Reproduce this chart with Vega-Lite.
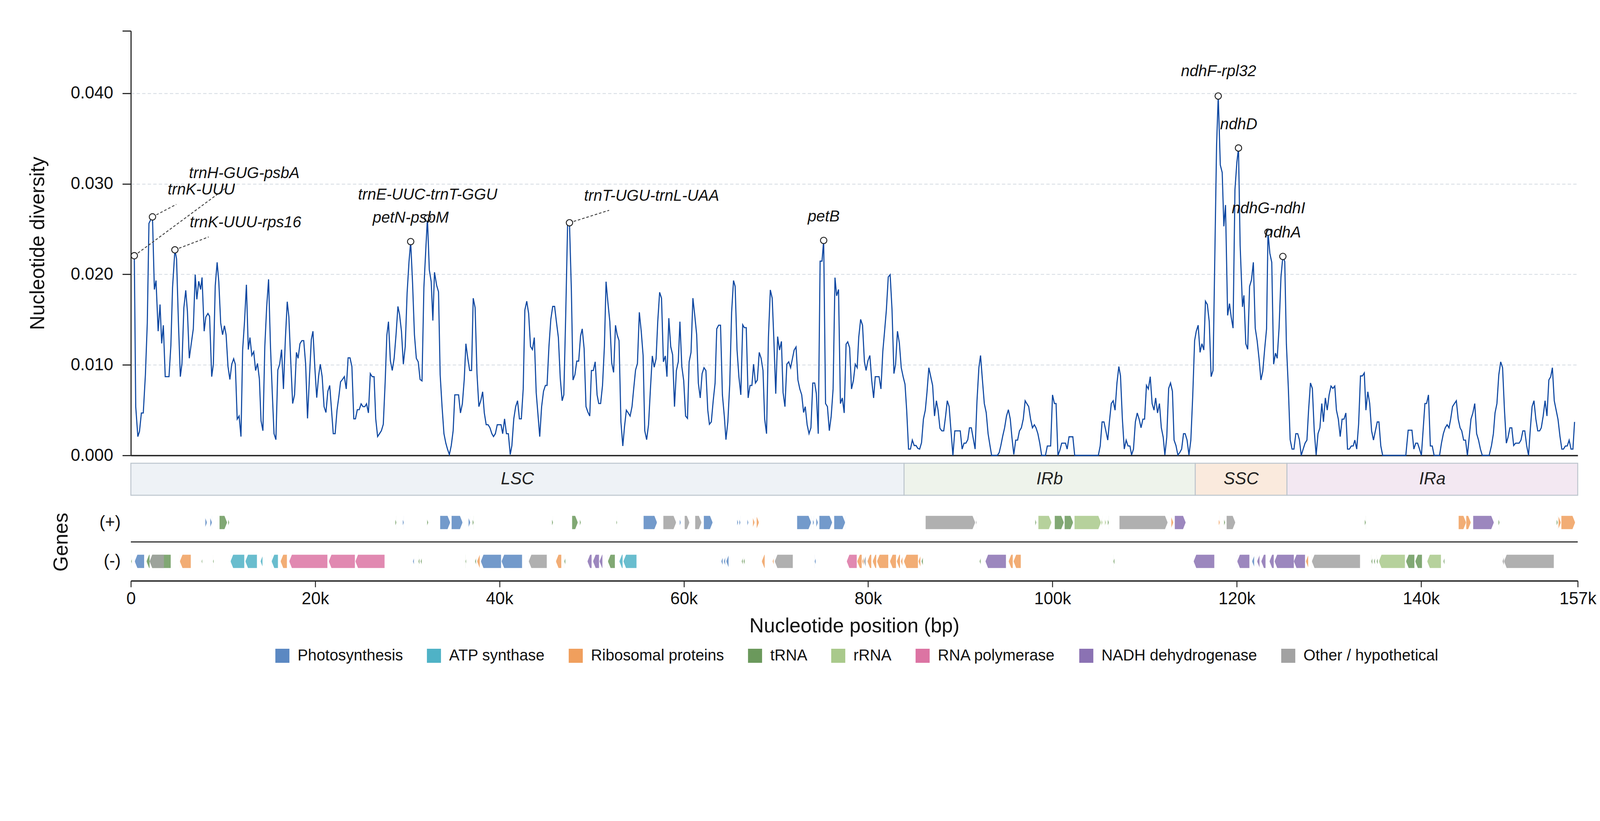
{
"$schema": "https://vega.github.io/schema/vega-lite/v6.json",
"background": "white",
"padding": {"left": 71, "top": 77, "right": 5, "bottom": 20},
"spacing": 20,
"bounds": "flush",
"config": {"font": "Liberation Sans", "view": {"stroke": null}, "axis": {"labelFont": "Liberation Sans", "titleFont": "Liberation Sans"}},
"resolve": {"scale": {"x": "independent", "y": "independent", "color": "independent", "fill": "independent"}},
"datasets": {
"div": [
{"x":374,"y":0.02206},{"x":528,"y":0.00539},{"x":758,"y":0.00208},{"x":937,"y":0.00266},{"x":1142,"y":0.00469},{"x":1347,"y":0.00469},{"x":1578,"y":0.00891},{"x":1783,"y":0.01464},{"x":1962,"y":0.02563},{"x":2115,"y":0.02596},{"x":2346,"y":0.02635},{"x":2551,"y":0.01833},{"x":2730,"y":0.01932},{"x":2961,"y":0.01372},{"x":3166,"y":0.01667},{"x":3345,"y":0.01237},{"x":3524,"y":0.01438},{"x":3729,"y":0.0087},{"x":3934,"y":0.0087},{"x":4139,"y":0.0087},{"x":4343,"y":0.01216},{"x":4523,"y":0.01854},{"x":4779,"y":0.02271},{"x":4958,"y":0.02172},{"x":5163,"y":0.01464},{"x":5368,"y":0.0087},{"x":5547,"y":0.01016},{"x":5752,"y":0.01633},{"x":5957,"y":0.01823},{"x":6136,"y":0.01594},{"x":6341,"y":0.01073},{"x":6546,"y":0.01229},{"x":6776,"y":0.01398},{"x":6981,"y":0.01997},{"x":7160,"y":0.01724},{"x":7365,"y":0.01924},{"x":7570,"y":0.01833},{"x":7724,"y":0.01966},{"x":7954,"y":0.01372},{"x":8133,"y":0.01529},{"x":8364,"y":0.01568},{"x":8543,"y":0.01536},{"x":8773,"y":0.0087},{"x":8953,"y":0.01008},{"x":9157,"y":0.01875},{"x":9362,"y":0.02133},{"x":9542,"y":0.01919},{"x":9747,"y":0.01464},{"x":9951,"y":0.01333},{"x":10156,"y":0.01432},{"x":10335,"y":0.01333},{"x":10540,"y":0.00982},{"x":10745,"y":0.00839},{"x":10950,"y":0.01008},{"x":11155,"y":0.01068},{"x":11334,"y":0.01008},{"x":11539,"y":0.00401},{"x":11744,"y":0.00435},{"x":11949,"y":0.00208},{"x":12128,"y":0.01164},{"x":12333,"y":0.01477},{"x":12538,"y":0.01885},{"x":12743,"y":0.01169},{"x":12922,"y":0.01302},{"x":13127,"y":0.01104},{"x":13332,"y":0.01146},{"x":13536,"y":0.00938},{"x":13741,"y":0.01016},{"x":13946,"y":0.00844},{"x":14125,"y":0.00383},{"x":14330,"y":0.00273},{"x":14535,"y":0.01203},{"x":14740,"y":0.01646},{"x":14945,"y":0.01945},{"x":15150,"y":0.01203},{"x":15355,"y":0.00669},{"x":15534,"y":0.0024},{"x":15739,"y":0.00174},{"x":15944,"y":0.00943},{"x":16148,"y":0.01008},{"x":16353,"y":0.01169},{"x":16558,"y":0.00734},{"x":16763,"y":0.01281},{"x":16968,"y":0.01698},{"x":17147,"y":0.01529},{"x":17352,"y":0.01034},{"x":17557,"y":0.00573},{"x":17762,"y":0.00669},{"x":17966,"y":0.01138},{"x":18146,"y":0.01073},{"x":18351,"y":0.01234},{"x":18556,"y":0.01268},{"x":18760,"y":0.01268},{"x":18965,"y":0.01008},{"x":19170,"y":0.00409},{"x":19375,"y":0.00852},{"x":19580,"y":0.01281},{"x":19759,"y":0.01372},{"x":19964,"y":0.00969},{"x":20169,"y":0.00638},{"x":20374,"y":0.00878},{"x":20553,"y":0.01008},{"x":20758,"y":0.0087},{"x":20963,"y":0.00539},{"x":21168,"y":0.00474},{"x":21373,"y":0.00708},{"x":21577,"y":0.00773},{"x":21757,"y":0.00526},{"x":21962,"y":0.0024},{"x":22167,"y":0.0024},{"x":22371,"y":0.005},{"x":22576,"y":0.00656},{"x":22756,"y":0.00813},{"x":22961,"y":0.00839},{"x":23165,"y":0.0087},{"x":23370,"y":0.00734},{"x":23575,"y":0.01078},{"x":23780,"y":0.01078},{"x":23985,"y":0.00982},{"x":24190,"y":0.00404},{"x":24369,"y":0.00404},{"x":24574,"y":0.00505},{"x":24779,"y":0.00505},{"x":24984,"y":0.0057},{"x":25188,"y":0.00539},{"x":25393,"y":0.00539},{"x":25573,"y":0.0057},{"x":25778,"y":0.00469},{"x":25982,"y":0.00904},{"x":26187,"y":0.0087},{"x":26392,"y":0.0087},{"x":26571,"y":0.00404},{"x":26776,"y":0.00208},{"x":26981,"y":0.0024},{"x":27186,"y":0.00273},{"x":27391,"y":0.00344},{"x":27596,"y":0.00813},{"x":27775,"y":0.01326},{"x":27954,"y":0.01477},{"x":28159,"y":0.01047},{"x":28364,"y":0.00938},{"x":28569,"y":0.01073},{"x":28774,"y":0.01333},{"x":28979,"y":0.01646},{"x":29158,"y":0.01555},{"x":29363,"y":0.01372},{"x":29568,"y":0.01008},{"x":29772,"y":0.01203},{"x":29977,"y":0.01797},{"x":30182,"y":0.02141},{"x":30362,"y":0.02362},{"x":30567,"y":0.01906},{"x":30771,"y":0.01333},{"x":30976,"y":0.01073},{"x":31181,"y":0.01034},{"x":31386,"y":0.00839},{"x":31591,"y":0.00823},{"x":31796,"y":0.01854},{"x":32001,"y":0.02271},{"x":32180,"y":0.02622},{"x":32385,"y":0.0205},{"x":32590,"y":0.01919},{"x":32769,"y":0.0149},{"x":32948,"y":0.02023},{"x":33179,"y":0.0188},{"x":33384,"y":0.01807},{"x":33563,"y":0.00891},{"x":33768,"y":0.00539},{"x":33973,"y":0.0024},{"x":34178,"y":0.00135},{"x":34357,"y":0.0007},{"x":34562,"y":0.0001},{"x":34767,"y":0.00109},{"x":34972,"y":0.00273},{"x":35151,"y":0.00669},{"x":35356,"y":0.00669},{"x":35561,"y":0.00669},{"x":35766,"y":0.00469},{"x":35971,"y":0.0057},{"x":36175,"y":0.00839},{"x":36355,"y":0.01234},{"x":36560,"y":0.01073},{"x":36765,"y":0.00938},{"x":36969,"y":0.00938},{"x":37149,"y":0.01737},{"x":37354,"y":0.01633},{"x":37558,"y":0.00904},{"x":37763,"y":0.00539},{"x":37968,"y":0.00604},{"x":38173,"y":0.00703},{"x":38353,"y":0.00469},{"x":38557,"y":0.00339},{"x":38762,"y":0.00339},{"x":38967,"y":0.00305},{"x":39172,"y":0.0024},{"x":39351,"y":0.00208},
{"x":39552,"y":0.0024},{"x":39757,"y":0.00339},{"x":39962,"y":0.00339},{"x":40167,"y":0.00339},{"x":40346,"y":0.0024},{"x":40551,"y":0.00404},{"x":40756,"y":0.0024},{"x":40961,"y":0.0024},{"x":41166,"y":0.0001},{"x":41345,"y":0.00109},{"x":41550,"y":0.00404},{"x":41755,"y":0.00539},{"x":41959,"y":0.00604},{"x":42164,"y":0.00404},{"x":42369,"y":0.00404},{"x":42574,"y":0.00734},{"x":42753,"y":0.01607},{"x":42958,"y":0.01703},{"x":43163,"y":0.01568},{"x":43368,"y":0.01203},{"x":43573,"y":0.01169},{"x":43778,"y":0.01302},{"x":43983,"y":0.00695},{"x":44162,"y":0.00469},{"x":44367,"y":0.00208},{"x":44572,"y":0.00539},{"x":44777,"y":0.00708},{"x":44981,"y":0.00773},{"x":45161,"y":0.00773},{"x":45366,"y":0.01203},{"x":45570,"y":0.01503},{"x":45775,"y":0.01646},{"x":45980,"y":0.01646},{"x":46185,"y":0.01469},{"x":46390,"y":0.01302},{"x":46595,"y":0.00852},{"x":46800,"y":0.00604},{"x":46979,"y":0.00669},{"x":47184,"y":0.01542},{"x":47389,"y":0.02544},{"x":47594,"y":0.0257},{"x":47799,"y":0.01828},{"x":47978,"y":0.00833},{"x":48183,"y":0.00891},{"x":48388,"y":0.01042},{"x":48593,"y":0.01042},{"x":48797,"y":0.0132},{"x":48977,"y":0.01398},{"x":49182,"y":0.01182},{"x":49386,"y":0.00539},{"x":49591,"y":0.00479},{"x":49796,"y":0.00435},{"x":49975,"y":0.00938},{"x":50180,"y":0.00938},{"x":50385,"y":0.01034},{"x":50590,"y":0.00669},{"x":50769,"y":0.00573},{"x":50974,"y":0.00573},{"x":51179,"y":0.00773},{"x":51384,"y":0.01203},{"x":51563,"y":0.01919},{"x":51768,"y":0.01685},{"x":51973,"y":0.01477},{"x":52178,"y":0.01021},{"x":52383,"y":0.00917},{"x":52588,"y":0.01438},{"x":52767,"y":0.01333},{"x":52972,"y":0.01268},{"x":53177,"y":0.0037},{"x":53382,"y":0.00104},{"x":53561,"y":0.00313},{"x":53766,"y":0.005},{"x":53970,"y":0.00469},{"x":54175,"y":0.00435},{"x":54380,"y":0.00539},{"x":54560,"y":0.00734},{"x":54764,"y":0.00943},{"x":54969,"y":0.01016},{"x":55174,"y":0.01581},{"x":55379,"y":0.01372},{"x":55584,"y":0.01104},{"x":55763,"y":0.00273},{"x":55968,"y":0.00174},{"x":56173,"y":0.00339},{"x":56378,"y":0.00734},{"x":56583,"y":0.01099},{"x":56787,"y":0.00974},{"x":56992,"y":0.01068},{"x":57172,"y":0.01477},{"x":57377,"y":0.01802},{"x":57582,"y":0.01737},{"x":57786,"y":0.01034},{"x":57991,"y":0.01099},{"x":58171,"y":0.0087},{"x":58375,"y":0.01516},{"x":58580,"y":0.01203},{"x":58785,"y":0.01112},{"x":58990,"y":0.00539},{"x":59195,"y":0.00938},{"x":59400,"y":0.01034},{"x":59579,"y":0.01477},{"x":59784,"y":0.00982},{"x":59989,"y":0.00826},{"x":60194,"y":0.00435},{"x":60399,"y":0.00409},{"x":60578,"y":0.01034},{"x":60783,"y":0.01138},{"x":60988,"y":0.01737},{"x":61193,"y":0.01542},{"x":61397,"y":0.01333},{"x":61577,"y":0.008},{"x":61782,"y":0.00635},{"x":61986,"y":0.00904},{"x":62191,"y":0.00969},{"x":62396,"y":0.00938},{"x":62601,"y":0.005},{"x":62780,"y":0.00344},{"x":62985,"y":0.0037},{"x":63190,"y":0.00604},{"x":63395,"y":0.008},{"x":63574,"y":0.01398},{"x":63779,"y":0.01438},{"x":63984,"y":0.01438},{"x":64189,"y":0.00669},{"x":64394,"y":0.00435},{"x":64573,"y":0.00174},{"x":64778,"y":0.0037},{"x":64983,"y":0.00786},{"x":65188,"y":0.01581},{"x":65393,"y":0.01932},{"x":65572,"y":0.01867},{"x":65777,"y":0.01164},{"x":65982,"y":0.00865},{"x":66187,"y":0.00669},{"x":66392,"y":0.01443},{"x":66571,"y":0.01411},{"x":66776,"y":0.01411},{"x":66981,"y":0.00635},{"x":67185,"y":0.00773},{"x":67390,"y":0.00773},{"x":67570,"y":0.01008},{"x":67774,"y":0.008},{"x":67979,"y":0.00833},{"x":68184,"y":0.01138},{"x":68389,"y":0.01073},{"x":68594,"y":0.00938},{"x":68773,"y":0.00401},{"x":68978,"y":0.0024},{"x":69183,"y":0.01307},{"x":69388,"y":0.01828},{"x":69593,"y":0.01737},{"x":69772,"y":0.01281},{"x":69977,"y":0.00682},{"x":70182,"y":0.01313},{"x":70387,"y":0.01164},{"x":70591,"y":0.0126},{"x":70771,"y":0.00695},{"x":70976,"y":0.00539},{"x":71180,"y":0.01008},{"x":71385,"y":0.01034},{"x":71590,"y":0.00969},{"x":71795,"y":0.01073},{"x":71974,"y":0.01164},{"x":72179,"y":0.01198},{"x":72384,"y":0.00833},{"x":72589,"y":0.00734},{"x":72794,"y":0.00669},{"x":72999,"y":0.00474},{"x":73178,"y":0.00539},{"x":73383,"y":0.00339},{"x":73588,"y":0.0024},{"x":73793,"y":0.00305},{"x":73997,"y":0.008},{"x":74202,"y":0.008},{"x":74382,"y":0.00682},{"x":74587,"y":0.0024},{"x":74791,"y":0.02146},{"x":74996,"y":0.02146},{"x":75176,"y":0.02375},{"x":75380,"y":0.00573},{"x":75585,"y":0.00539},{"x":75790,"y":0.00273},{"x":75995,"y":0.00435},{"x":76200,"y":0.00734},{"x":76405,"y":0.01964},{"x":76584,"y":0.01763},{"x":76789,"y":0.01833},{"x":76994,"y":0.00573},{"x":77199,"y":0.00635},{"x":77404,"y":0.00469},{"x":77609,"y":0.01229},{"x":77788,"y":0.01255},{"x":77993,"y":0.0119},{"x":78198,"y":0.00734},{"x":78402,"y":0.00826},{"x":78607,"y":0.01008},{"x":78812,"y":0.00969},
{"x":78984,"y":0.01307},{"x":79189,"y":0.01503},{"x":79394,"y":0.01438},{"x":79599,"y":0.01034},{"x":79778,"y":0.00938},{"x":79983,"y":0.01047},{"x":80188,"y":0.01104},{"x":80392,"y":0.00826},{"x":80597,"y":0.00635},{"x":80777,"y":0.0087},{"x":80981,"y":0.0087},{"x":81186,"y":0.0087},{"x":81391,"y":0.00734},{"x":81596,"y":0.01151},{"x":81775,"y":0.01359},{"x":81980,"y":0.01607},{"x":82185,"y":0.01971},{"x":82390,"y":0.01997},{"x":82595,"y":0.01607},{"x":82800,"y":0.00904},{"x":82979,"y":0.01008},{"x":83184,"y":0.01372},{"x":83389,"y":0.01242},{"x":83594,"y":0.00969},{"x":83799,"y":0.0087},{"x":84003,"y":0.00786},{"x":84183,"y":0.005},{"x":84388,"y":0.0007},{"x":84593,"y":0.0007},{"x":84797,"y":0.00169},{"x":85002,"y":0.00109},{"x":85207,"y":0.00109},{"x":85386,"y":0.00078},{"x":85591,"y":0.0007},{"x":85796,"y":0.00141},{"x":86001,"y":0.00401},{"x":86206,"y":0.005},{"x":86385,"y":0.00695},{"x":86590,"y":0.00969},{"x":86795,"y":0.0087},{"x":87000,"y":0.00773},{"x":87205,"y":0.00435},{"x":87410,"y":0.00604},{"x":87589,"y":0.005},{"x":87794,"y":0.003},{"x":87999,"y":0.00271},{"x":88204,"y":0.00271},{"x":88408,"y":0.00435},{"x":88588,"y":0.00604},{"x":88792,"y":0.00539},{"x":88997,"y":0.00266},{"x":89202,"y":0},{"x":89407,"y":0.00271},{"x":89612,"y":0.00271},{"x":89817,"y":0.00271},{"x":89996,"y":0.00271},{"x":90201,"y":0.0007},{"x":90406,"y":0.00135},{"x":90611,"y":0.00135},{"x":90815,"y":0.00174},{"x":90995,"y":0.00305},{"x":91200,"y":0.00305},{"x":91404,"y":0.00188},{"x":91609,"y":0.0007},{"x":91814,"y":0.00604},{"x":92019,"y":0.00969},{"x":92198,"y":0.01104},{"x":92403,"y":0.00833},{"x":92608,"y":0.00573},{"x":92813,"y":0.00474},{"x":93018,"y":0.0024},{"x":93223,"y":0.00109},{"x":93402,"y":0},{"x":93607,"y":0},{"x":93812,"y":0},{"x":94016,"y":0},{"x":94221,"y":0.00031},{"x":94401,"y":0.00109},{"x":94606,"y":0.00214},{"x":94810,"y":0.00305},{"x":95015,"y":0.00435},{"x":95220,"y":0.00505},{"x":95425,"y":0.00401},{"x":95604,"y":0.002},{"x":95809,"y":0.0001},{"x":96014,"y":0.00169},{"x":96219,"y":0.00169},{"x":96424,"y":0.00271},{"x":96629,"y":0.00305},{"x":96834,"y":0.00401},{"x":97038,"y":0.00604},{"x":97218,"y":0.00573},{"x":97423,"y":0.00539},{"x":97628,"y":0.00401},{"x":97832,"y":0.00305},{"x":98037,"y":0.00339},{"x":98217,"y":0.00305},{"x":98421,"y":0.0024},{"x":98626,"y":0.00135},{"x":98831,"y":0},{"x":99036,"y":0},{"x":99241,"y":0},{"x":99446,"y":0.00104},{"x":99651,"y":0.00104},{"x":99805,"y":0.00104},{"x":100010,"y":0.00669},{"x":100214,"y":0.00573},{"x":100394,"y":0.00573},{"x":100599,"y":0},{"x":100803,"y":0.00057},{"x":101008,"y":0.00135},{"x":101213,"y":0.00135},{"x":101418,"y":0.00135},{"x":101598,"y":0.0007},{"x":101802,"y":0.00206},{"x":102007,"y":0.00206},{"x":102212,"y":0.00206},{"x":102417,"y":0},{"x":103000,"y":0},{"x":103600,"y":0},{"x":104200,"y":0},{"x":104978,"y":0},{"x":105183,"y":0.00104},{"x":105388,"y":0.0037},{"x":105592,"y":0.0037},{"x":105797,"y":0.00271},{"x":106002,"y":0.00169},{"x":106181,"y":0.0037},{"x":106386,"y":0.00573},{"x":106591,"y":0.00604},{"x":106796,"y":0.005},{"x":107001,"y":0.008},{"x":107206,"y":0.00982},{"x":107385,"y":0.00878},{"x":107590,"y":0.00401},{"x":107795,"y":0.0007},{"x":108000,"y":0.00169},{"x":108205,"y":0.00104},{"x":108410,"y":0.00104},{"x":108589,"y":0.00005},{"x":108794,"y":0.0007},{"x":108999,"y":0.0037},{"x":109203,"y":0.00469},{"x":109408,"y":0.00401},{"x":109613,"y":0.00305},{"x":109818,"y":0.00401},{"x":109997,"y":0.00401},{"x":110202,"y":0.00773},{"x":110407,"y":0.00734},{"x":110612,"y":0.0087},{"x":110817,"y":0.00573},{"x":111022,"y":0.005},{"x":111201,"y":0.00635},{"x":111406,"y":0.00469},{"x":111611,"y":0.00573},{"x":111816,"y":0.00305},{"x":112021,"y":0.002},{"x":112200,"y":0.00005},{"x":112405,"y":0.002},{"x":112610,"y":0.0074},{"x":112815,"y":0.008},{"x":113020,"y":0.00708},{"x":113199,"y":0.00169},{"x":113404,"y":0.00109},{"x":113609,"y":0.00005},{"x":113814,"y":0.00031},{"x":114019,"y":0.0007},{"x":114224,"y":0.0024},{"x":114403,"y":0.0024},{"x":114608,"y":0.00169},{"x":114813,"y":0.00005},{"x":115018,"y":0.00169},{"x":115223,"y":0.00656},{"x":115428,"y":0.01268},{"x":115607,"y":0.01372},{"x":115812,"y":0.01438},{"x":116017,"y":0.01138},{"x":116221,"y":0.01234},{"x":116426,"y":0.01164},{"x":116605,"y":0.01703},{"x":116810,"y":0.01667},{"x":117015,"y":0.01477},{"x":117220,"y":0.0087},{"x":117425,"y":0.00938},{"x":117809,"y":0.03417},{"x":117990,"y":0.0397},
{"x":118216,"y":0.03208},{"x":118421,"y":0.03125},{"x":118600,"y":0.02531},{"x":118779,"y":0.02766},{"x":119010,"y":0.01547},{"x":119215,"y":0.01677},{"x":119394,"y":0.01529},{"x":119599,"y":0.01406},{"x":119804,"y":0.02935},{"x":120009,"y":0.03234},{"x":120188,"y":0.03396},{"x":120367,"y":0.02323},{"x":120623,"y":0.01641},{"x":120777,"y":0.01768},{"x":120982,"y":0.01234},{"x":121187,"y":0.01172},{"x":121392,"y":0.01867},{"x":121596,"y":0.01938},{"x":121801,"y":0.02133},{"x":122006,"y":0.01406},{"x":122211,"y":0.01268},{"x":122416,"y":0.01073},{"x":122621,"y":0.00833},{"x":122826,"y":0.0093},{"x":123031,"y":0.01177},{"x":123235,"y":0.01398},{"x":123389,"y":0.02466},{"x":123594,"y":0.02232},{"x":123799,"y":0.02133},{"x":124004,"y":0.01008},{"x":124209,"y":0.0113},{"x":124388,"y":0.01073},{"x":124593,"y":0.01411},{"x":124798,"y":0.01971},{"x":125003,"y":0.02198},{"x":125208,"y":0.02141},{"x":125387,"y":0.01229},{"x":125592,"y":0.0076},{"x":125796,"y":0.00174},{"x":126001,"y":0.0007},{"x":126206,"y":0.0007},{"x":126411,"y":0.0024},{"x":126616,"y":0.0024},{"x":126795,"y":0.00174},{"x":127000,"y":0},{"x":127205,"y":0.0007},{"x":127410,"y":0.00135},{"x":127615,"y":0.00169},{"x":127794,"y":0.005},{"x":127999,"y":0.008},{"x":128204,"y":0.0074},{"x":128409,"y":0.00271},{"x":128614,"y":0.00005},{"x":128818,"y":0.0024},{"x":129023,"y":0.00305},{"x":129228,"y":0.00573},{"x":129408,"y":0.0037},{"x":129612,"y":0.00635},{"x":129817,"y":0.005},{"x":130022,"y":0.00669},{"x":130227,"y":0.00766},{"x":130432,"y":0.0074},{"x":130637,"y":0.00766},{"x":130816,"y":0.005},{"x":131021,"y":0.00401},{"x":131226,"y":0.00208},{"x":131431,"y":0.00401},{"x":131636,"y":0.00401},{"x":131840,"y":0.00469},{"x":132020,"y":0.0007},{"x":132225,"y":0.0007},{"x":132430,"y":0.00104},{"x":132634,"y":0.00104},{"x":132814,"y":0.00169},{"x":133019,"y":0.0007},{"x":133223,"y":0.00344},{"x":133428,"y":0.00878},{"x":133633,"y":0.00878},{"x":133838,"y":0.00911},{"x":134017,"y":0.005},{"x":134222,"y":0.00703},{"x":134427,"y":0.00573},{"x":134632,"y":0.00271},{"x":134837,"y":0.00169},{"x":135042,"y":0.00271},{"x":135246,"y":0.0037},{"x":135426,"y":0.0037},{"x":135631,"y":0.00104},{"x":135835,"y":0},{"x":136400,"y":0},{"x":137000,"y":0},{"x":137600,"y":0},{"x":138345,"y":0},{"x":138601,"y":0.00279},{"x":138806,"y":0.00279},{"x":139011,"y":0.00279},{"x":139216,"y":0.0007},{"x":139421,"y":0.00135},{"x":139626,"y":0.00135},{"x":139830,"y":0.0007},{"x":140035,"y":0},{"x":140419,"y":0.00573},{"x":140599,"y":0.00573},{"x":140803,"y":0.00669},{"x":141008,"y":0.00104},{"x":141213,"y":0.00104},{"x":141418,"y":0},{"x":142007,"y":0},{"x":142212,"y":0.00135},{"x":142417,"y":0.0024},{"x":142622,"y":0.00305},{"x":142827,"y":0.00339},{"x":143032,"y":0.00305},{"x":143211,"y":0.00401},{"x":143416,"y":0.00539},{"x":143621,"y":0.00573},{"x":143826,"y":0.00604},{"x":144031,"y":0.00401},{"x":144235,"y":0.00305},{"x":144415,"y":0.00271},{"x":144620,"y":0.00169},{"x":144824,"y":0.00169},{"x":145029,"y":0},{"x":145416,"y":0.00401},{"x":145621,"y":0.00469},{"x":145825,"y":0.00573},{"x":146030,"y":0.0024},{"x":146235,"y":0.00169},{"x":146440,"y":0.0007},{"x":146645,"y":0},{"x":147386,"y":0},{"x":147642,"y":0.00109},{"x":147847,"y":0.0024},{"x":148026,"y":0.00469},{"x":148231,"y":0.00573},{"x":148436,"y":0.00891},{"x":148640,"y":0.01034},{"x":148845,"y":0.00969},{"x":149050,"y":0.005},{"x":149255,"y":0.00135},{"x":149434,"y":0.002},{"x":149639,"y":0.00305},{"x":149844,"y":0.00305},{"x":150049,"y":0.00109},{"x":150254,"y":0.00135},{"x":150459,"y":0.00135},{"x":150638,"y":0.00135},{"x":150843,"y":0.00169},{"x":151047,"y":0.00271},{"x":151252,"y":0.00271},{"x":151457,"y":0.00109},{"x":151662,"y":0},{"x":151841,"y":0.00271},{"x":152046,"y":0.00539},{"x":152251,"y":0.00604},{"x":152456,"y":0.00401},{"x":152661,"y":0.00271},{"x":152866,"y":0.00271},{"x":153045,"y":0.00305},{"x":153250,"y":0.00435},{"x":153455,"y":0.00604},{"x":153660,"y":0.00435},{"x":153865,"y":0.00833},{"x":154069,"y":0.0087},{"x":154249,"y":0.00969},{"x":154453,"y":0.00604},{"x":154658,"y":0.005},{"x":154863,"y":0.00396},{"x":155068,"y":0.00214},{"x":155273,"y":0.0007},{"x":155452,"y":0.0007},{"x":155657,"y":0.00104},{"x":155862,"y":0.00104},{"x":156067,"y":0.00169},{"x":156272,"y":0.0007},{"x":156477,"y":0.0007},{"x":156656,"y":0.0037}
],
"ann": [
{"label":"trnH-GUG-psbA","x":374,"y":0.02206,"lx":12308,"ly":0.03117,"ex":10230,"ey":0.02948},
{"label":"trnK-UUU","x":2346,"y":0.02635,"lx":7645,"ly":0.02935,"ex":4932,"ey":0.02773},
{"label":"trnK-UUU-rps16","x":4779,"y":0.02271,"lx":12437,"ly":0.0257,"ex":8442,"ey":0.02414},
{"label":"petN-psbM","x":30362,"y":0.02362,"lx":30362,"ly":0.02622},
{"label":"trnE-UUC-trnT-GGU","x":32180,"y":0.02622,"lx":32208,"ly":0.02878},
{"label":"trnT-UGU-trnL-UAA","x":47594,"y":0.0257,"lx":56506,"ly":0.02865,"ex":51896,"ey":0.02708},
{"label":"petB","x":75176,"y":0.02375,"lx":75176,"ly":0.02635},
{"label":"ndhF-rpl32","x":117990,"y":0.0397,"lx":118030,"ly":0.0424},
{"label":"ndhD","x":120188,"y":0.03396,"lx":120213,"ly":0.03656},
{"label":"ndhG-ndhI","x":123389,"y":0.02466,"lx":123440,"ly":0.02727},
{"label":"ndhA","x":125003,"y":0.02198,"lx":125000,"ly":0.02458}
],
"regions": [
{"name":"LSC","s":0,"e":83900,"mid":41950},
{"name":"IRb","s":83900,"e":115500,"mid":99700},
{"name":"SSC","s":115500,"e":125450,"mid":120475},
{"name":"IRa","s":125450,"e":157000,"mid":141225}
],
"genes": [
{"s":8081,"e":8248,"st":"(+)","c":"Photosynthesis"},
{"s":8617,"e":8785,"st":"(+)","c":"Photosynthesis"},
{"s":9623,"e":10428,"st":"(+)","c":"tRNA"},
{"s":10562,"e":10663,"st":"(+)","c":"tRNA"},
{"s":28702,"e":28803,"st":"(+)","c":"tRNA"},
{"s":29507,"e":29607,"st":"(+)","c":"Photosynthesis"},
{"s":32155,"e":32256,"st":"(+)","c":"tRNA"},
{"s":33564,"e":34637,"st":"(+)","c":"Photosynthesis"},
{"s":34804,"e":35978,"st":"(+)","c":"Photosynthesis"},
{"s":36648,"e":36816,"st":"(+)","c":"Photosynthesis"},
{"s":37084,"e":37185,"st":"(+)","c":"tRNA"},
{"s":45701,"e":45802,"st":"(+)","c":"tRNA"},
{"s":47881,"e":48485,"st":"(+)","c":"tRNA"},
{"s":48721,"e":48821,"st":"(+)","c":"tRNA"},
{"s":52688,"e":52755,"st":"(+)","c":"tRNA"},
{"s":55637,"e":57079,"st":"(+)","c":"Photosynthesis"},
{"s":57783,"e":59157,"st":"(+)","c":"Other / hypothetical"},
{"s":59559,"e":59660,"st":"(+)","c":"Photosynthesis"},
{"s":60096,"e":60598,"st":"(+)","c":"Other / hypothetical"},
{"s":61235,"e":61906,"st":"(+)","c":"Other / hypothetical"},
{"s":62174,"e":63113,"st":"(+)","c":"Photosynthesis"},
{"s":65794,"e":65895,"st":"(+)","c":"Photosynthesis"},
{"s":66029,"e":66129,"st":"(+)","c":"Photosynthesis"},
{"s":66900,"e":67001,"st":"(+)","c":"Photosynthesis"},
{"s":67504,"e":67671,"st":"(+)","c":"Ribosomal proteins"},
{"s":67906,"e":68141,"st":"(+)","c":"Ribosomal proteins"},
{"s":72297,"e":73805,"st":"(+)","c":"Photosynthesis"},
{"s":74006,"e":74107,"st":"(+)","c":"Photosynthesis"},
{"s":74375,"e":74543,"st":"(+)","c":"Photosynthesis"},
{"s":74711,"e":76085,"st":"(+)","c":"Photosynthesis"},
{"s":76319,"e":77493,"st":"(+)","c":"Photosynthesis"},
{"s":86242,"e":91605,"st":"(+)","c":"Other / hypothetical"},
{"s":91706,"e":91773,"st":"(+)","c":"Other / hypothetical"},
{"s":98141,"e":98241,"st":"(+)","c":"tRNA"},
{"s":98476,"e":99884,"st":"(+)","c":"rRNA"},
{"s":100253,"e":101225,"st":"(+)","c":"tRNA"},
{"s":101325,"e":102230,"st":"(+)","c":"tRNA"},
{"s":102398,"e":105251,"st":"(+)","c":"rRNA"},
{"s":105319,"e":105422,"st":"(+)","c":"rRNA"},
{"s":105697,"e":105799,"st":"(+)","c":"rRNA"},
{"s":106005,"e":106108,"st":"(+)","c":"tRNA"},
{"s":107274,"e":112488,"st":"(+)","c":"Other / hypothetical"},
{"s":112900,"e":113105,"st":"(+)","c":"Ribosomal proteins"},
{"s":113277,"e":114443,"st":"(+)","c":"NADH dehydrogenase"},
{"s":118045,"e":118147,"st":"(+)","c":"Ribosomal proteins"},
{"s":118628,"e":118730,"st":"(+)","c":"tRNA"},
{"s":118902,"e":119828,"st":"(+)","c":"Other / hypothetical"},
{"s":133893,"e":133994,"st":"(+)","c":"tRNA"},
{"s":144078,"e":144867,"st":"(+)","c":"Ribosomal proteins"},
{"s":144901,"e":145382,"st":"(+)","c":"Ribosomal proteins"},
{"s":145656,"e":147886,"st":"(+)","c":"NADH dehydrogenase"},
{"s":148400,"e":148503,"st":"(+)","c":"tRNA"},
{"s":154711,"e":154814,"st":"(+)","c":"tRNA"},
{"s":154917,"e":155157,"st":"(+)","c":"Ribosomal proteins"},
{"s":155226,"e":156701,"st":"(+)","c":"Ribosomal proteins"},
{"s":34,"e":101,"st":"(-)","c":"tRNA"},
{"s":436,"e":1442,"st":"(-)","c":"Photosynthesis"},
{"s":1710,"e":4325,"st":"(-)","c":"tRNA"},
{"s":2045,"e":3588,"st":"(-)","c":"Other / hypothetical"},
{"s":5331,"e":6505,"st":"(-)","c":"Ribosomal proteins"},
{"s":7678,"e":7745,"st":"(-)","c":"tRNA"},
{"s":8919,"e":8986,"st":"(-)","c":"tRNA"},
{"s":10830,"e":12306,"st":"(-)","c":"ATP synthase"},
{"s":12440,"e":13680,"st":"(-)","c":"ATP synthase"},
{"s":14083,"e":14284,"st":"(-)","c":"ATP synthase"},
{"s":15290,"e":15960,"st":"(-)","c":"ATP synthase"},
{"s":16262,"e":16933,"st":"(-)","c":"Ribosomal proteins"},
{"s":17201,"e":21326,"st":"(-)","c":"RNA polymerase"},
{"s":21493,"e":24310,"st":"(-)","c":"RNA polymerase"},
{"s":24377,"e":27529,"st":"(-)","c":"RNA polymerase"},
{"s":30613,"e":30713,"st":"(-)","c":"Photosynthesis"},
{"s":31216,"e":31317,"st":"(-)","c":"tRNA"},
{"s":31451,"e":31552,"st":"(-)","c":"tRNA"},
{"s":36313,"e":36380,"st":"(-)","c":"tRNA"},
{"s":37353,"e":37454,"st":"(-)","c":"tRNA"},
{"s":37587,"e":37856,"st":"(-)","c":"Ribosomal proteins"},
{"s":37990,"e":40169,"st":"(-)","c":"Photosynthesis"},
{"s":40236,"e":42449,"st":"(-)","c":"Photosynthesis"},
{"s":43187,"e":45132,"st":"(-)","c":"Other / hypothetical"},
{"s":46137,"e":46707,"st":"(-)","c":"Ribosomal proteins"},
{"s":47043,"e":47144,"st":"(-)","c":"tRNA"},
{"s":49558,"e":49994,"st":"(-)","c":"NADH dehydrogenase"},
{"s":50162,"e":50799,"st":"(-)","c":"NADH dehydrogenase"},
{"s":50866,"e":51168,"st":"(-)","c":"NADH dehydrogenase"},
{"s":51780,"e":52520,"st":"(-)","c":"tRNA"},
{"s":53023,"e":53358,"st":"(-)","c":"ATP synthase"},
{"s":53459,"e":54866,"st":"(-)","c":"ATP synthase"},
{"s":64084,"e":64219,"st":"(-)","c":"Photosynthesis"},
{"s":64353,"e":64487,"st":"(-)","c":"Photosynthesis"},
{"s":64621,"e":64855,"st":"(-)","c":"Photosynthesis"},
{"s":66297,"e":66398,"st":"(-)","c":"tRNA"},
{"s":66498,"e":66599,"st":"(-)","c":"tRNA"},
{"s":68476,"e":68777,"st":"(-)","c":"Ribosomal proteins"},
{"s":69649,"e":69750,"st":"(-)","c":"Ribosomal proteins"},
{"s":69883,"e":71827,"st":"(-)","c":"Other / hypothetical"},
{"s":74208,"e":74308,"st":"(-)","c":"Photosynthesis"},
{"s":77694,"e":78766,"st":"(-)","c":"RNA polymerase"},
{"s":78833,"e":79302,"st":"(-)","c":"Ribosomal proteins"},
{"s":79369,"e":79500,"st":"(-)","c":"Ribosomal proteins"},
{"s":79540,"e":79740,"st":"(-)","c":"Other / hypothetical"},
{"s":79940,"e":80343,"st":"(-)","c":"Ribosomal proteins"},
{"s":80510,"e":80879,"st":"(-)","c":"Ribosomal proteins"},
{"s":80979,"e":82186,"st":"(-)","c":"Ribosomal proteins"},
{"s":82387,"e":83024,"st":"(-)","c":"Ribosomal proteins"},
{"s":83124,"e":83459,"st":"(-)","c":"Ribosomal proteins"},
{"s":83560,"e":83727,"st":"(-)","c":"Ribosomal proteins"},
{"s":83895,"e":85403,"st":"(-)","c":"Ribosomal proteins"},
{"s":85470,"e":85671,"st":"(-)","c":"Ribosomal proteins"},
{"s":85805,"e":85939,"st":"(-)","c":"tRNA"},
{"s":92107,"e":92208,"st":"(-)","c":"tRNA"},
{"s":92744,"e":94956,"st":"(-)","c":"NADH dehydrogenase"},
{"s":95258,"e":95694,"st":"(-)","c":"Ribosomal proteins"},
{"s":95794,"e":96565,"st":"(-)","c":"Ribosomal proteins"},
{"s":106623,"e":106726,"st":"(-)","c":"tRNA"},
{"s":115335,"e":117564,"st":"(-)","c":"NADH dehydrogenase"},
{"s":120068,"e":121372,"st":"(-)","c":"NADH dehydrogenase"},
{"s":121680,"e":121886,"st":"(-)","c":"Photosynthesis"},
{"s":122229,"e":122469,"st":"(-)","c":"NADH dehydrogenase"},
{"s":122675,"e":123121,"st":"(-)","c":"NADH dehydrogenase"},
{"s":123567,"e":124013,"st":"(-)","c":"NADH dehydrogenase"},
{"s":124116,"e":126209,"st":"(-)","c":"NADH dehydrogenase"},
{"s":126209,"e":127408,"st":"(-)","c":"NADH dehydrogenase"},
{"s":127511,"e":127751,"st":"(-)","c":"Ribosomal proteins"},
{"s":128163,"e":133377,"st":"(-)","c":"Other / hypothetical"},
{"s":134611,"e":134714,"st":"(-)","c":"tRNA"},
{"s":134886,"e":134989,"st":"(-)","c":"tRNA"},
{"s":135194,"e":135297,"st":"(-)","c":"tRNA"},
{"s":135435,"e":138247,"st":"(-)","c":"rRNA"},
{"s":138384,"e":139276,"st":"(-)","c":"tRNA"},
{"s":139379,"e":140099,"st":"(-)","c":"tRNA"},
{"s":140683,"e":142157,"st":"(-)","c":"rRNA"},
{"s":142432,"e":142535,"st":"(-)","c":"tRNA"},
{"s":148847,"e":148984,"st":"(-)","c":"Other / hypothetical"},
{"s":149017,"e":154402,"st":"(-)","c":"Other / hypothetical"}
],
"sep": [{"st":"(-)"}]
},
"vconcat": [
{
"width": 3704, "height": 1087,
"layer": [
{"data": {"name": "div"},
 "mark": {"type": "line", "color": "#0d47a1", "strokeWidth": 2.8},
 "encoding": {
  "x": {"field": "x", "type": "quantitative", "scale": {"domain": [0, 157000], "nice": false, "zero": false},
        "axis": {"labels": false, "ticks": false, "title": null, "grid": false, "domainColor": "#222222", "domainWidth": 3.3}},
  "y": {"field": "y", "type": "quantitative", "scale": {"domain": [0, 0.0469], "nice": false},
        "axis": {"values": [0, 0.01, 0.02, 0.03, 0.04, 0.0469],
                 "labelExpr": "datum.value > 0.045 ? '' : format(datum.value, '.3f')",
                 "labelFontSize": 43.6, "labelColor": "#111111", "labelPadding": 23.7,
                 "tickSize": 21.8, "tickWidth": 2.8, "tickColor": "#222222",
                 "domainColor": "#222222", "domainWidth": 2.8,
                 "grid": true, "gridDash": [8.5, 5.7], "gridColor": "#d3dae1", "gridWidth": 1.9,
                 "gridOpacity": {"condition": {"test": "datum.value > 0.045 || datum.value == 0", "value": 0}, "value": 1},
                 "title": "Nucleotide diversity", "titleFontSize": 51.2, "titleFontWeight": "normal", "titleColor": "#111111", "titlePadding": 57}}
 }},
{"data": {"name": "ann"},
 "transform": [{"filter": "isValid(datum.ex)"}],
 "mark": {"type": "rule", "color": "#444444", "strokeWidth": 2.4, "strokeDash": [6.6, 4.7]},
 "encoding": {"x": {"field": "x", "type": "quantitative"}, "y": {"field": "y", "type": "quantitative"},
              "x2": {"field": "ex"}, "y2": {"field": "ey"}}},
{"data": {"name": "ann"},
 "mark": {"type": "point", "shape": "circle", "size": 270, "filled": true, "fill": "white", "stroke": "#222222", "strokeWidth": 2.4, "opacity": 1},
 "encoding": {"x": {"field": "x", "type": "quantitative"}, "y": {"field": "y", "type": "quantitative"}}},
{"data": {"name": "ann"},
 "mark": {"type": "text", "fontStyle": "italic", "fontSize": 39.8, "color": "#111111", "align": "center", "baseline": "middle"},
 "encoding": {"x": {"field": "lx", "type": "quantitative"}, "y": {"field": "ly", "type": "quantitative"}, "text": {"field": "label"}}}
]
},
{
"width": 3704, "height": 82,
"data": {"name": "regions"},
"layer": [
{"mark": {"type": "rect", "stroke": "#bcc5cd", "strokeWidth": 2.4},
 "encoding": {
  "x": {"field": "s", "type": "quantitative", "scale": {"domain": [0, 157000], "nice": false, "zero": false}, "axis": null},
  "x2": {"field": "e"},
  "fill": {"field": "name", "type": "nominal", "scale": {"domain": ["LSC", "IRb", "SSC", "IRa"], "range": ["#eef2f6", "#eef3eb", "#faeadd", "#f3e8f2"]}, "legend": null}
 }},
{"mark": {"type": "text", "fontStyle": "italic", "fontSize": 43.6, "color": "#222222", "align": "center", "baseline": "middle"},
 "encoding": {"x": {"field": "mid", "type": "quantitative"}, "text": {"field": "name"}}}
]
},
{
"width": 3704, "height": 199,
"layer": [
{"data": {"name": "genes"},
 "mark": {"type": "bar", "size": 34, "opacity": 0.85},
 "encoding": {
  "x": {"field": "s", "type": "quantitative", "scale": {"domain": [0, 157000], "nice": false, "zero": false},
        "axis": {"values": [0, 20000, 40000, 60000, 80000, 100000, 120000, 140000, 157000],
                 "labelExpr": "datum.value == 0 ? '0' : format(datum.value / 1000, 'd') + 'k'",
                 "labelFontSize": 43.6, "labelColor": "#111111", "labelPadding": 9.5,
                 "labelFlush": false, "labelOverlap": false, "labelBound": false,
                 "tickSize": 16, "tickWidth": 2.4, "tickColor": "#222222",
                 "domainColor": "#222222", "domainWidth": 3.3, "grid": false,
                 "title": "Nucleotide position (bp)", "titleFontSize": 51.2, "titleFontWeight": "normal", "titleColor": "#111111", "titlePadding": 23.7}},
  "x2": {"field": "e"},
  "y": {"field": "st", "type": "nominal", "scale": {"domain": ["(+)", "(-)"], "paddingInner": 0, "paddingOuter": 0},
        "axis": {"title": "Genes", "titleFontSize": 51.2, "titleFontWeight": "normal", "titleColor": "#111111", "titlePadding": 71,
                 "labelFontSize": 43.6, "labelColor": "#111111", "labelPadding": 26.5, "ticks": false, "domain": false, "grid": false}},
  "color": {"field": "c", "type": "nominal",
            "scale": {"domain": ["Photosynthesis", "ATP synthase", "Ribosomal proteins", "tRNA", "rRNA", "RNA polymerase", "NADH dehydrogenase", "Other / hypothetical"],
                      "range": ["#5b88c2", "#4fb2c6", "#f09f5d", "#6b995c", "#a9c98b", "#dc74a3", "#8b72b3", "#a2a2a2"]},
            "legend": {"orient": "none", "legendX": 368, "legendY": 371, "direction": "horizontal", "title": null,
                       "symbolType": "square", "symbolSize": 1297, "symbolOpacity": 1, "symbolStrokeWidth": 0,
                       "labelFontSize": 39.8, "labelColor": "#111111", "labelOffset": 19, "labelLimit": 1000, "columnPadding": 59, "padding": 0}}
 }},
{"data": {"name": "genes"},
 "transform": [{"filter": "datum.st == '(+)'"}],
 "mark": {"type": "point", "shape": "M-0.4,-1.06L0.02,-1.06L0.02,0Z M-0.4,1.06L0.02,1.06L0.02,0Z", "size": 1156, "filled": true, "color": "white", "opacity": 1, "strokeWidth": 0},
 "encoding": {"x": {"field": "e", "type": "quantitative"}, "y": {"field": "st", "type": "nominal"}}},
{"data": {"name": "genes"},
 "transform": [{"filter": "datum.st == '(-)'"}],
 "mark": {"type": "point", "shape": "M0.4,-1.06L-0.02,-1.06L-0.02,0Z M0.4,1.06L-0.02,1.06L-0.02,0Z", "size": 1156, "filled": true, "color": "white", "opacity": 1, "strokeWidth": 0},
 "encoding": {"x": {"field": "s", "type": "quantitative"}, "y": {"field": "st", "type": "nominal"}}},
{"data": {"name": "sep"},
 "mark": {"type": "rule", "color": "#333333", "strokeWidth": 2.8},
 "encoding": {"y": {"field": "st", "type": "nominal", "bandPosition": 0}}}
]
}
]
}
